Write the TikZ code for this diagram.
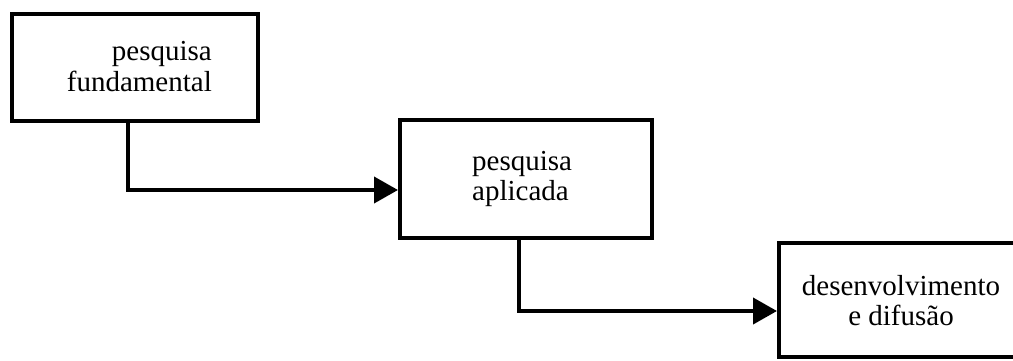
\documentclass[tikz,border=0pt]{standalone}
\usepackage{fontspec}
\setmainfont{Liberation Serif}
\usetikzlibrary{arrows.meta}
\begin{document}
\begin{tikzpicture}[x=1pt,y=-1pt,
  box/.style={draw=black, line width=4pt, fill=white, rectangle, inner sep=0pt},
  conn/.style={draw=black, line width=4pt, line join=miter, -{Triangle[length=24pt,width=26pt]}},
  lbl/.style={font=\fontsize{29}{31}\selectfont, inner sep=0pt, text=black}]
\useasboundingbox (0,0) rectangle (1013,360);
\clip (0,0) rectangle (1013,360);
% boxes
\node[box, minimum width=246pt, minimum height=107pt] (b1) at (135,67.5) {};
\node[box, minimum width=252pt, minimum height=118pt] (b2) at (526,179) {};
\node[box, minimum width=260pt, minimum height=114pt] (b3) at (909,300) {};
% texts
\node[lbl, anchor=base east] (t1a) at (212,60) {pesquisa};
\node[lbl, anchor=base east] (t1b) at (212,91) {fundamental};
\node[lbl, anchor=base west] (t2a) at (472,170) {pesquisa};
\node[lbl, anchor=base west] (t2b) at (472,200) {aplicada};
\node[lbl, anchor=base] (t3a) at (901,295) {desenvolvimento};
\node[lbl, anchor=base] (t3b) at (901,325) {e difusão};
% connectors
\coordinate (k1) at (128,190);
\coordinate (k2) at (519,311);
\draw[conn] (b1.south -| k1) |- (b2.west |- k1);
\draw[conn] (b2.south -| k2) |- (b3.west |- k2);
\end{tikzpicture}
\end{document}
